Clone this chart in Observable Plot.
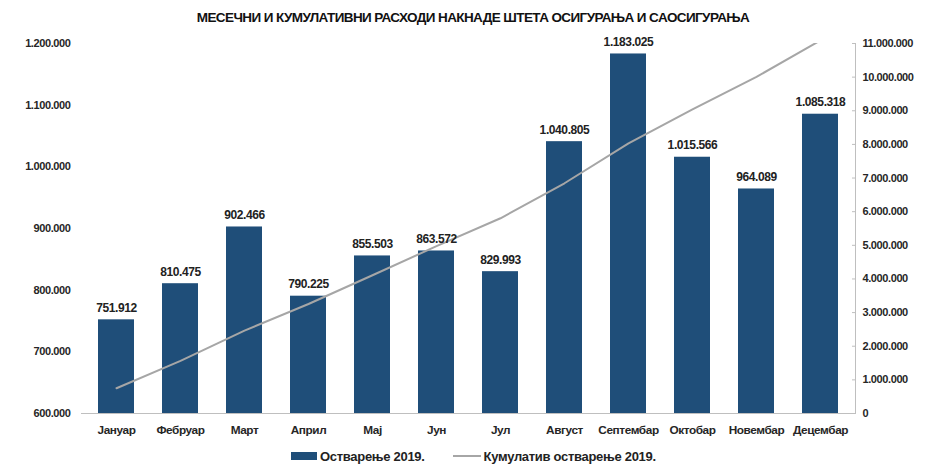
<!DOCTYPE html>
<html>
<head>
<meta charset="utf-8">
<script src="https://cdn.jsdelivr.net/npm/d3@7"></script>
<script src="https://cdn.jsdelivr.net/npm/@observablehq/plot@0.6"></script>
<style>
  body { margin: 0; background: #fff; width: 928px; height: 467px; overflow: hidden;
         font-family: "Liberation Sans", Arial, sans-serif; }
  #title { height: 28px; line-height: 35px; text-align: center; font-weight: bold; font-size: 13.5px; color: #111;
           padding-left: 18px; letter-spacing: -0.6px; white-space: nowrap; }
  #legend { height: 22px; display: flex; justify-content: flex-start; align-items: center; font-weight: bold;
            font-size: 13px; color: #222; padding-left: 291px; letter-spacing: -0.3px; white-space: nowrap; }
  .sw { display: inline-block; margin-right: 3px; }
  svg { display: block; }
  svg text { letter-spacing: -0.4px; }
</style>
</head>
<body>
<div id="title">МЕСЕЧНИ И КУМУЛАТИВНИ РАСХОДИ НАКНАДЕ ШТЕТА ОСИГУРАЊА И САОСИГУРАЊА</div>
<div id="chart"></div>
<div id="legend">
  <span class="sw" style="width:26px;height:8px;background:#1f4e79;"></span><span style="margin-right:28px">Остварење 2019.</span>
  <span class="sw" style="width:28px;height:2px;background:#a6a6a6;"></span><span>Кумулатив остварење 2019.</span>
</div>
<script>
const months = ["Јануар","Фебруар","Март","Април","Мај","Јун","Јул","Август","Септембар","Октобар","Новембар","Децембар"];
const monthly = [751912, 810475, 902466, 790225, 855503, 863572, 829993, 1040805, 1183025, 1015566, 964089, 1085318];
const cumulative = [751912, 1562387, 2464853, 3255078, 4110581, 4974153, 5804146, 6844951, 8027976, 9043542, 10007631, 11092949];
const leftTicks = [600000, 700000, 800000, 900000, 1000000, 1100000, 1200000];
const rightTicks = [0, 1000000, 2000000, 3000000, 4000000, 5000000, 6000000, 7000000, 8000000, 9000000, 10000000, 11000000];

const fmt = d3.formatLocale({thousands: ".", grouping: [3], decimal: ","}).format(",d");
// map right-axis units onto left y scale
const L0 = 600000, L1 = 1200000, R1 = 11000000;
const toLeft = v => L0 + v * (L1 - L0) / R1;
const toRight = v => (v - L0) * R1 / (L1 - L0);

const bars = months.map((m, i) => ({month: m, value: monthly[i], cum: toLeft(cumulative[i])}));

const chart = Plot.plot({
  width: 928,
  height: 417,
  marginTop: 15,
  marginBottom: 32,
  marginLeft: 81,
  marginRight: 73,
  style: {fontFamily: '"Liberation Sans", Arial, sans-serif', fontSize: "11px", fontWeight: "bold", color: "#262626"},
  x: {domain: months, paddingInner: 0.44, paddingOuter: 0.22, label: null},
  y: {domain: [L0, L1], label: null},
  marks: [
    Plot.barY(bars, {x: "month", y1: L0, y2: "value", fill: "#1f4e79"}),
    Plot.ruleY([L0], {stroke: "#bfbfbf"}),
    Plot.frame({anchor: "right", stroke: "#bfbfbf"}),
    Plot.line(bars, {x: "month", y: "cum", stroke: "#a6a6a6", strokeWidth: 2, clip: true}),
    Plot.text(bars, {x: "month", y: "value", text: d => fmt(d.value), lineAnchor: "bottom", dy: -8, fontSize: 12, fontWeight: "bold", fill: "#222"}),
    Plot.axisY(leftTicks, {anchor: "left", tickSize: 0, tickPadding: 11, tickFormat: fmt, fontSize: 11, label: null}),
    Plot.axisY(rightTicks.map(toLeft), {anchor: "right", tickSize: -4, tickPadding: 11, tickFormat: d => fmt(Math.round(toRight(d))), stroke: "#bfbfbf", fontSize: 11, label: null}),
    Plot.axisX({tickSize: 0, tickPadding: 12, fontSize: 11.8, label: null})
  ]
});
document.getElementById("chart").appendChild(chart);
</script>
</body>
</html>
